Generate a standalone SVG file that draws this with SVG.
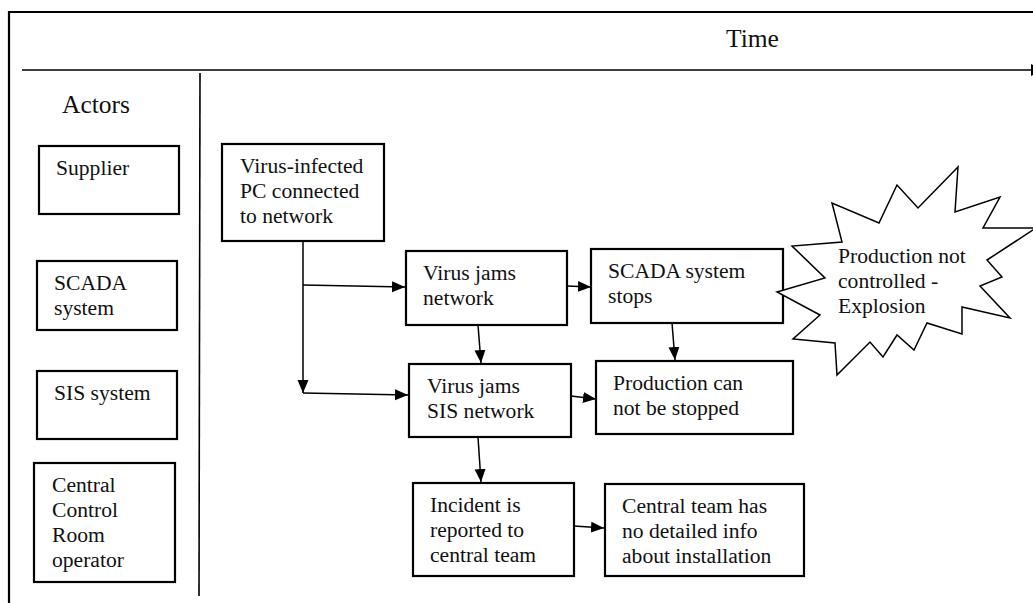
<svg xmlns="http://www.w3.org/2000/svg" width="1033" height="603" viewBox="0 0 1033 603">
  <defs>
    <marker id="arrow" markerUnits="userSpaceOnUse" markerWidth="14" markerHeight="12" refX="13" refY="6" orient="auto">
      <path d="M0,0.5 L13,6 L0,11.5 Z" fill="#000"/>
    </marker>
    <style>
      .txt { font-family: 'Liberation Serif', 'Times New Roman', serif; font-size: 21.6px; fill: #111; }
      .head { font-size: 25.5px; }
      .box { fill: #fff; stroke: #000; stroke-width: 2.2; }
      .frame { fill: none; stroke: #000; stroke-width: 2.2; }
      .rule { fill: none; stroke: #000; stroke-width: 1.6; }
      .conn { fill: none; stroke: #000; stroke-width: 1.5; }
      .star { fill: #fff; stroke: #000; stroke-width: 1.5; stroke-linejoin: miter; }
    </style>
  </defs>

  <rect width="1033" height="603" fill="#fff"/>

  <g class="txt">
  <!-- frame and time axis -->
  <g id="frame">
    <path class="frame" d="M9,603 L9,12 L1033,12"/>
    <line class="rule" x1="22" y1="70" x2="1031" y2="70"/>
    <polygon points="1031,64 1043,70 1031,76" fill="#000"/>
    <line class="rule" x1="200" y1="73" x2="199" y2="596"/>
    <text class="head" x="726" y="47">Time</text>
    <text class="head" x="62" y="113">Actors</text>
  </g>

  <!-- actor column -->
  <g id="actor-supplier">
    <rect class="box" x="39" y="146" width="140" height="68"/>
    <text x="56" y="175">Supplier</text>
  </g>
  <g id="actor-scada">
    <rect class="box" x="37" y="261" width="140" height="69"/>
    <text x="54" y="290">SCADA</text>
    <text x="54" y="315">system</text>
  </g>
  <g id="actor-sis">
    <rect class="box" x="37" y="371" width="140" height="68"/>
    <text x="54" y="400">SIS system</text>
  </g>
  <g id="actor-ccr">
    <rect class="box" x="34" y="463" width="141" height="119"/>
    <text x="52" y="492">Central</text>
    <text x="52" y="517">Control</text>
    <text x="52" y="542">Room</text>
    <text x="52" y="567">operator</text>
  </g>

  <!-- event chain -->
  <g id="ev-infected-pc">
    <rect class="box" x="222" y="144" width="162" height="97"/>
    <text x="240" y="173">Virus-infected</text>
    <text x="240" y="198">PC connected</text>
    <text x="240" y="223">to network</text>
  </g>
  <g id="ev-jams-network">
    <rect class="box" x="406" y="251" width="161" height="74"/>
    <text x="423" y="280">Virus jams</text>
    <text x="423" y="305">network</text>
  </g>
  <g id="ev-scada-stops">
    <rect class="box" x="591" y="249" width="192" height="74"/>
    <text x="608" y="278">SCADA system</text>
    <text x="608" y="303">stops</text>
  </g>
  <g id="ev-explosion">
    <polygon class="star" points="777,292 825,278 792,246 842,242 832,203 879,223 897,185 918,208 958,167 955,212 1000,197 983,228 1036,228 987,260 1002,277 980,286 1010,318 962,307 962,334 927,323 914,350 897,335 883,357 870,342 837,375 835,343 793,339 820,315"/>
    <text x="838" y="263">Production not</text>
    <text x="838" y="288">controlled -</text>
    <text x="838" y="313">Explosion</text>
  </g>
  <g id="ev-jams-sis">
    <rect class="box" x="409" y="364" width="162" height="73"/>
    <text x="427" y="393">Virus jams</text>
    <text x="427" y="418">SIS network</text>
  </g>
  <g id="ev-cannot-stop">
    <rect class="box" x="596" y="361" width="197" height="73"/>
    <text x="613" y="390">Production can</text>
    <text x="613" y="415">not be stopped</text>
  </g>
  <g id="ev-reported">
    <rect class="box" x="413" y="483" width="161" height="93"/>
    <text x="430" y="512">Incident is</text>
    <text x="430" y="537">reported to</text>
    <text x="430" y="562">central team</text>
  </g>
  <g id="ev-no-info">
    <rect class="box" x="605" y="484" width="199" height="92"/>
    <text x="622" y="513">Central team has</text>
    <text x="622" y="538">no detailed info</text>
    <text x="622" y="563">about installation</text>
  </g>
  </g>

  <!-- connectors -->
  <g id="connectors">
    <line class="conn" x1="303" y1="241" x2="303" y2="393" marker-end="url(#arrow)"/>
    <line class="conn" x1="303" y1="285" x2="405" y2="287" marker-end="url(#arrow)"/>
    <line class="conn" x1="303" y1="393" x2="408" y2="395" marker-end="url(#arrow)"/>
    <line class="conn" x1="567" y1="286" x2="591" y2="287" marker-end="url(#arrow)"/>
    <line class="conn" x1="478" y1="325" x2="481" y2="363" marker-end="url(#arrow)"/>
    <line class="conn" x1="672" y1="323" x2="675" y2="360" marker-end="url(#arrow)"/>
    <line class="conn" x1="571" y1="396" x2="596" y2="399" marker-end="url(#arrow)"/>
    <line class="conn" x1="478" y1="437" x2="481" y2="482" marker-end="url(#arrow)"/>
    <line class="conn" x1="574" y1="526" x2="604" y2="528" marker-end="url(#arrow)"/>
  </g>
</svg>
